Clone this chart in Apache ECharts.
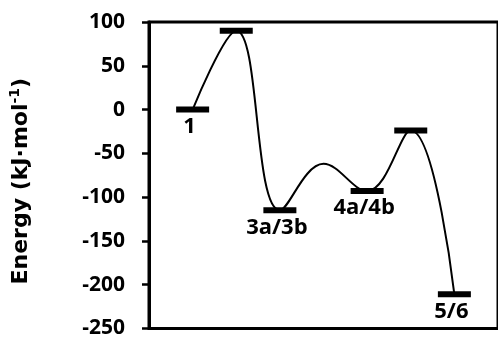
<!DOCTYPE html>
<html><head><meta charset="utf-8">
<script src="https://cdn.jsdelivr.net/npm/echarts@6/dist/echarts.min.js"></script>
<style>html,body{margin:0;padding:0;background:#fff}#c{width:498px;height:339px}</style>
</head><body><div id="c"></div>
<script>
// reaction coordinate positions and energies (kJ/mol) of the profile curve
const positions = [1, 2, 3, 4, 5, 6, 7];
const energies = [0, 90, -115, -62, -93, -24, -211];
// energy levels drawn as thick bars
const levelPositions = [1, 2, 3, 5, 6, 7];
const levelEnergies = [0, 90, -115, -93, -24, -211];
const levelLabels = ['1', '', '3a/3b', '4a/4b', '', '5/6'];
// y axis ticks
const yMin = -250, yMax = 100, yStep = 50;

const FONT = 'Open Sans';
const NAMEFONT = 'DejaVu Sans';
const chart = echarts.init(document.getElementById('c'), null, {renderer: 'canvas'});
chart.setOption({
  animation: false,
  backgroundColor: '#fff',
  grid: {left: 148.5, top: 22, width: 355, height: 309, show: true, borderColor: '#000', borderWidth: 3, backgroundColor: 'transparent'},
  xAxis: {type: 'value', min: 0, max: 8, show: false},
  yAxis: {
    type: 'value', min: yMin, max: yMax, interval: yStep,
    axisLine: {show: true, lineStyle: {color: '#000', width: 3}},
    axisTick: {show: true, inside: false, length: 7, lineStyle: {color: '#000', width: 2.5}},
    splitLine: {show: false},
    axisLabel: {color: '#000', fontSize: 21, fontWeight: 'bold', fontFamily: FONT, margin: 24},
    name: 'Energy (kJ·mol{sup|-1})',
    nameLocation: 'middle',
    nameGap: 115,
    nameTextStyle: {
      color: '#000', fontSize: 22, fontWeight: 'bold', fontFamily: NAMEFONT, lineHeight: 26,
      padding: [0, 12, 0, 0],
      rich: {sup: {fontSize: 14, fontWeight: 'bold', fontFamily: NAMEFONT, color: '#000', verticalAlign: 'top', lineHeight: 26, padding: [0, 0, 10, 0]}}
    }
  },
  series: [
    {
      type: 'line', data: positions.map((x, i) => [x, energies[i]]),
      smooth: 0.4, symbol: 'none', lineStyle: {color: '#000', width: 2}, z: 2
    },
    {
      type: 'scatter', data: levelPositions.map((x, i) => [x, levelEnergies[i]]),
      symbol: 'rect', symbolSize: [33, 6], itemStyle: {color: '#000', opacity: 1}, z: 3,
      label: {
        show: true, position: 'bottom', distance: 3, offset: [-3, 0],
        formatter: p => levelLabels[p.dataIndex],
        color: '#000', fontSize: 22, fontWeight: 'bold', fontFamily: FONT
      }
    }
  ]
});
</script></body></html>
